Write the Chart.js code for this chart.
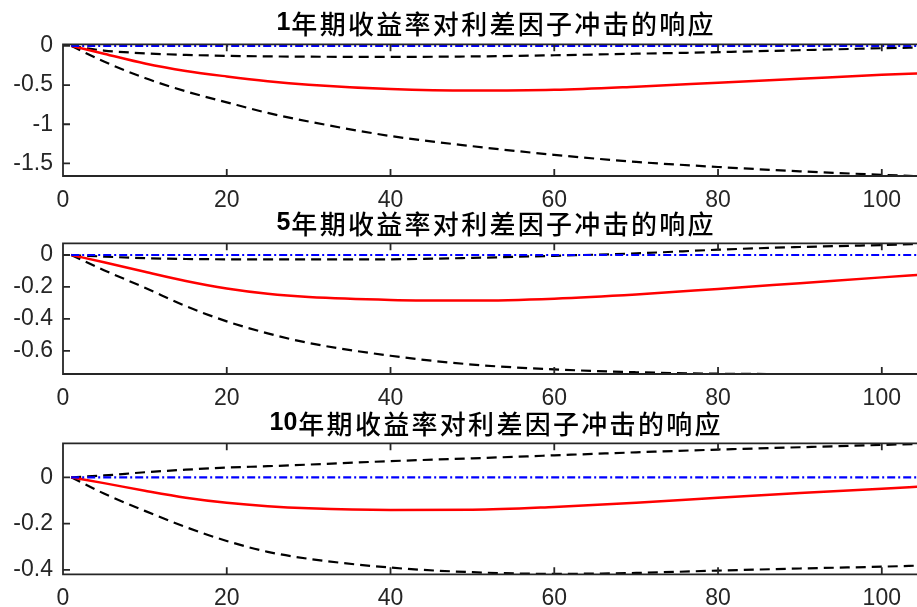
<!DOCTYPE html>
<html lang="zh">
<head>
<meta charset="UTF-8">
<title>利差因子冲击的响应</title>
<script src="https://cdn.jsdelivr.net/npm/chart.js"></script>
<style>
  body { margin: 0; background: #fff; }
  .panel { position: absolute; left: 0; width: 917px; }
</style>
</head>
<body>
<div class="panel" style="top:0;height:210px"><canvas id="c1"></canvas></div>
<div class="panel" style="top:200px;height:208px"><canvas id="c2"></canvas></div>
<div class="panel" style="top:400px;height:207px"><canvas id="c3"></canvas></div>

<script>
// 期数
const periods = [1, 5, 10, 15, 20, 25, 30, 40, 50, 60, 70, 80, 90, 100, 105];
const xTicks = [0, 20, 40, 60, 80, 100];
const zeroLine = [0, 0, 0, 0, 0, 0, 0, 0, 0, 0, 0, 0, 0, 0, 0];

// 1年期
const resp1  = [0, -0.10, -0.225, -0.32, -0.39, -0.45, -0.495, -0.55, -0.57, -0.56, -0.52, -0.47, -0.42, -0.37, -0.35];
const upper1 = [0, -0.06, -0.095, -0.115, -0.127, -0.134, -0.138, -0.14, -0.135, -0.12, -0.10, -0.08, -0.055, -0.03, -0.02];
const lower1 = [0, -0.20, -0.41, -0.58, -0.72, -0.855, -0.965, -1.15, -1.28, -1.39, -1.48, -1.545, -1.60, -1.645, -1.665];
const yTicks1 = [0, -0.5, -1, -1.5];

// 5年期
const resp2  = [0, -0.045, -0.105, -0.163, -0.21, -0.243, -0.263, -0.281, -0.285, -0.273, -0.247, -0.212, -0.176, -0.14, -0.123];
const upper2 = [0, -0.01, -0.02, -0.025, -0.027, -0.028, -0.028, -0.027, -0.018, -0.005, 0.01, 0.033, 0.05, 0.062, 0.069];
const lower2 = [0, -0.095, -0.205, -0.32, -0.415, -0.49, -0.55, -0.63, -0.685, -0.715, -0.733, -0.742, -0.745, -0.745, -0.745];
const yTicks2 = [0, -0.2, -0.4, -0.6];

// 10年期
const resp3  = [0, -0.025, -0.058, -0.088, -0.11, -0.125, -0.134, -0.141, -0.14, -0.128, -0.11, -0.088, -0.068, -0.049, -0.04];
const upper3 = [0, 0.008, 0.022, 0.033, 0.042, 0.048, 0.055, 0.07, 0.082, 0.095, 0.108, 0.12, 0.13, 0.14, 0.145];
const lower3 = [0, -0.07, -0.145, -0.215, -0.275, -0.322, -0.352, -0.39, -0.41, -0.417, -0.413, -0.403, -0.394, -0.386, -0.381];
const yTicks3 = [0, -0.2, -0.4];

const axisColor = '#262626';
const tickFont = { family: 'Liberation Sans, Arial, sans-serif', size: 23 };

function pts(arr) {
    return periods.map((p, i) => ({ x: p, y: arr[i] }));
}

// 坐标框和向内的刻度
const framePlugin = {
    id: 'frame',
    afterDatasetsDraw(chart) {
        const { ctx, chartArea: a, scales: { x, y } } = chart;
        const right = chart.width;
        ctx.save();
        ctx.strokeStyle = axisColor;
        ctx.lineWidth = 1.8;
        ctx.beginPath();
        ctx.moveTo(right, a.top);
        ctx.lineTo(a.left, a.top);
        ctx.lineTo(a.left, a.bottom);
        ctx.lineTo(right, a.bottom);
        x.ticks.forEach(t => {
            const px = x.getPixelForValue(t.value);
            ctx.moveTo(px, a.bottom); ctx.lineTo(px, a.bottom - 7);
            ctx.moveTo(px, a.top); ctx.lineTo(px, a.top + 7);
        });
        y.ticks.forEach(t => {
            const py = y.getPixelForValue(t.value);
            ctx.moveTo(a.left, py); ctx.lineTo(a.left + 7, py);
        });
        ctx.stroke();
        ctx.restore();
    }
};

// 标题: 数字加粗, 汉字常规
const titlePlugin = {
    id: 'panelTitle',
    afterDraw(chart, args, opts) {
        const ctx = chart.ctx;
        const step = 28.3;
        ctx.save();
        ctx.fillStyle = '#000';
        ctx.textBaseline = 'middle';
        ctx.font = 'bold 25px "Liberation Sans", Arial, sans-serif';
        const numW = ctx.measureText(opts.num).width;
        const chars = Array.from(opts.text);
        const total = numW + chars.length * step - 3.3;
        let xPos = 494 - total / 2;
        ctx.fillText(opts.num, xPos, 23);
        xPos += numW + 1;
        ctx.font = '500 26px "Noto Sans CJK SC", sans-serif';
        chars.forEach(ch => {
            ctx.fillText(ch, xPos, 24);
            xPos += step;
        });
        ctx.restore();
    }
};

function makePanel(id, cfg) {
    new Chart(document.getElementById(id), {
        type: 'line',
        data: {
            datasets: [
                { data: pts(zeroLine), borderColor: '#0000ff', borderDash: [8, 3, 2, 3], borderWidth: 2.2 },
                { data: pts(cfg.resp), borderColor: '#ff0000', borderWidth: 2.5 },
                { data: pts(cfg.upper), borderColor: '#000', borderDash: [10, 6], borderWidth: 2.2 },
                { data: pts(cfg.lower), borderColor: '#000', borderDash: [10, 6], borderWidth: 2.2 }
            ]
        },
        options: {
            animation: false,
            responsive: true,
            maintainAspectRatio: false,
            layout: { padding: { top: cfg.padTop, left: 0, right: 0, bottom: 0 } },
            elements: { point: { radius: 0 }, line: { cubicInterpolationMode: 'monotone' } },
            plugins: {
                legend: { display: false },
                tooltip: { enabled: false },
                panelTitle: { num: cfg.num, text: '年期收益率对利差因子冲击的响应' }
            },
            scales: {
                x: {
                    type: 'linear', min: 0, max: 104.3,
                    grid: { display: false, drawTicks: false, tickLength: 0 },
                    border: { display: false },
                    afterBuildTicks: s => { s.ticks = xTicks.map(v => ({ value: v })); },
                    afterFit: s => { s.height = cfg.axisH; },
                    ticks: { padding: 11, color: axisColor, font: tickFont, maxRotation: 0, autoSkip: false, callback: v => String(v) }
                },
                y: {
                    min: cfg.yMin, max: cfg.yMax,
                    grid: { display: false, drawTicks: false, tickLength: 0 },
                    border: { display: false },
                    afterBuildTicks: s => { s.ticks = cfg.yTicks.map(v => ({ value: v })); },
                    afterFit: s => { s.width = 63; },
                    ticks: { padding: 10, color: axisColor, font: tickFont, autoSkip: false, callback: v => String(v) }
                }
            }
        },
        plugins: [framePlugin, titlePlugin]
    });
}

makePanel('c1', { num: '1', resp: resp1, upper: upper1, lower: lower1, yTicks: yTicks1, yMin: -1.66, yMax: 0.02, padTop: 44.3, axisH: 34 });
makePanel('c2', { num: '5', resp: resp2, upper: upper2, lower: lower2, yTicks: yTicks2, yMin: -0.744, yMax: 0.073, padTop: 43.3, axisH: 34 });
makePanel('c3', { num: '10', resp: resp3, upper: upper3, lower: lower3, yTicks: yTicks3, yMin: -0.419, yMax: 0.147, padTop: 43.3, axisH: 32.7 });
</script>
</body>
</html>
